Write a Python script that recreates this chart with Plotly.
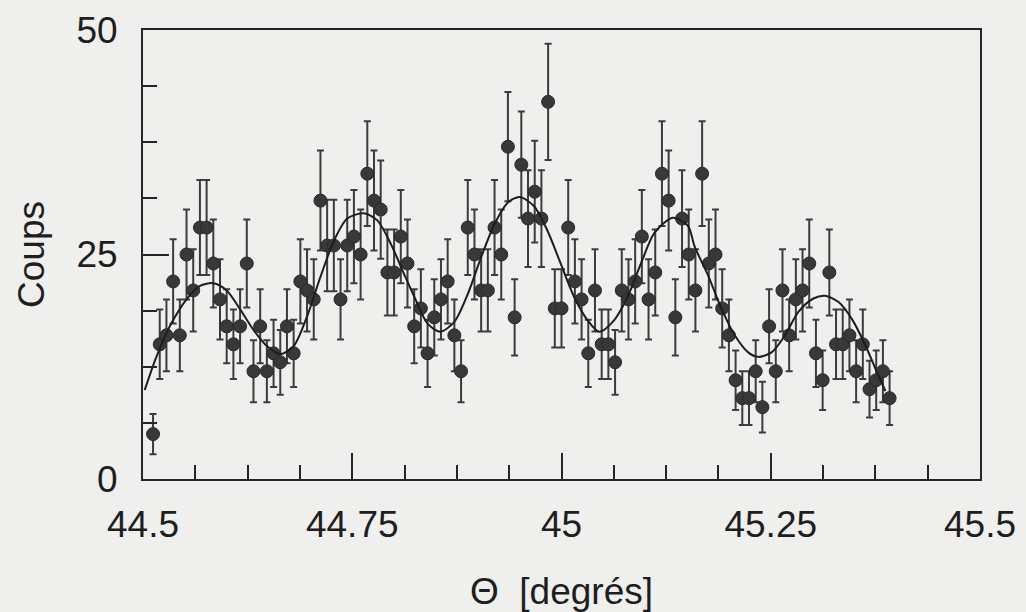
import numpy as np
import plotly.graph_objects as go

# Data
theta = [44.512, 44.520, 44.528, 44.536, 44.544, 44.552, 44.560, 44.568, 44.576, 44.584,
         44.592, 44.600, 44.608, 44.616, 44.624, 44.632, 44.640, 44.648, 44.656, 44.664,
         44.672, 44.680, 44.688, 44.696, 44.704, 44.712, 44.720, 44.728, 44.736, 44.744,
         44.752, 44.760, 44.768, 44.776, 44.784, 44.792, 44.800, 44.808, 44.816, 44.824,
         44.832, 44.840, 44.848, 44.856, 44.864, 44.872, 44.880, 44.888, 44.896, 44.904,
         44.912, 44.920, 44.928, 44.936, 44.944, 44.952, 44.960, 44.968, 44.976, 44.984,
         44.992, 45.000, 45.008, 45.016, 45.024, 45.032, 45.040, 45.048, 45.056, 45.064,
         45.072, 45.080, 45.088, 45.096, 45.104, 45.112, 45.120, 45.128, 45.136, 45.144,
         45.152, 45.160, 45.168, 45.176, 45.184, 45.192, 45.200, 45.208, 45.216, 45.224,
         45.232, 45.240, 45.248, 45.256, 45.264, 45.272, 45.280, 45.288, 45.296, 45.304,
         45.312, 45.320, 45.328, 45.336, 45.344, 45.352, 45.360, 45.368, 45.376, 45.384,
         45.392]

coups = [5, 15, 16, 22, 16, 25, 21, 28, 28, 24,
         20, 17, 15, 17, 24, 12, 17, 12, 14, 13,
         17, 14, 22, 21, 20, 31, 26, 26, 20, 26,
         27, 25, 34, 31, 30, 23, 23, 27, 24, 17,
         19, 14, 18, 20, 22, 16, 12, 28, 25, 21,
         21, 28, 25, 37, 18, 35, 29, 32, 29, 42,
         19, 19, 28, 22, 20, 14, 21, 15, 15, 13,
         21, 20, 22, 27, 20, 23, 34, 31, 18, 29,
         25, 21, 34, 24, 25, 19, 16, 11, 9, 9,
         12, 8, 17, 12, 21, 16, 20, 21, 24, 14,
         11, 23, 15, 15, 16, 12, 15, 10, 11, 12,
         9]

# Fitted curve
fit_theta = [44.502, 44.516, 44.532, 44.552, 44.568, 44.584, 44.600, 44.616, 44.632, 44.648,
             44.664, 44.680, 44.696, 44.712, 44.728, 44.744, 44.764, 44.780, 44.796, 44.812,
             44.828, 44.840, 44.855, 44.872, 44.888, 44.904, 44.920, 44.936, 44.950, 44.967,
             44.983, 44.999, 45.015, 45.031, 45.045, 45.063, 45.079, 45.095, 45.111, 45.133,
             45.151, 45.159, 45.175, 45.191, 45.207, 45.223, 45.235, 45.251, 45.267, 45.283,
             45.301, 45.315, 45.331, 45.347, 45.363, 45.375, 45.387]
fit_coups = [9.9, 13.6, 17.0, 20.0, 21.5, 21.8, 21.0, 18.9, 16.6, 14.8,
             13.9, 14.8, 18.1, 22.5, 26.5, 29.0, 29.6, 28.8, 26.2, 22.8,
             19.5, 17.3, 16.4, 17.5, 20.6, 24.7, 28.4, 30.8, 31.4, 30.4,
             27.7, 24.0, 20.3, 17.7, 16.4, 17.7, 20.3, 24.0, 27.4, 29.1,
             28.2, 25.9, 22.7, 19.0, 16.0, 14.1, 13.6, 14.1, 16.0, 18.6,
             20.1, 20.4, 19.7, 17.8, 14.9, 12.3, 9.8]

x_tickvals = [44.5, 44.75, 45, 45.25, 45.5]
x_ticktext = ["44.5", "44.75", "45", "45.25", "45.5"]
y_tickvals = [0, 25, 50]
y_ticktext = ["0", "25", "50"]

bg = "#efefed"
ink = "#262626"
font_family = "Liberation Sans, Arial, Helvetica, sans-serif"

fig = go.Figure()

fig.add_trace(go.Scatter(
    x=theta, y=coups, mode="markers",
    marker=dict(size=13, color="#383838", line=dict(color="#2a2a2a", width=1)),
    error_y=dict(type="data", array=np.sqrt(coups), visible=True,
                 color="#3c3c3c", thickness=2, width=3.5),
    showlegend=False,
))

fig.add_trace(go.Scatter(
    x=fit_theta, y=fit_coups, mode="lines",
    line=dict(color="#1e1e1e", width=2, shape="spline", smoothing=0.8),
    showlegend=False,
))

axis_common = dict(
    showgrid=False, zeroline=False, automargin=False,
    showline=True, mirror=True, linecolor=ink, linewidth=2,
    ticks="inside", tickwidth=2, tickcolor=ink, ticklen=26,
    tickfont=dict(family=font_family, size=37, color="#1e1e1e"),
)

fig.update_xaxes(
    **axis_common,
    range=[44.5, 45.5],
    tickmode="array", tickvals=x_tickvals, ticktext=x_ticktext,
    minor=dict(ticks="inside", ticklen=14, tickwidth=2, tickcolor=ink,
               tick0=44.5, dtick=0.0625, showgrid=False),
    ticklabelstandoff=12,
    title=dict(text="\u0398\u00a0 [degrés]",
               font=dict(family=font_family, size=37, color="#1e1e1e"),
               standoff=34),
)

fig.update_yaxes(
    **axis_common,
    range=[0, 50],
    tickmode="array", tickvals=y_tickvals, ticktext=y_ticktext,
    minor=dict(ticks="inside", ticklen=14, tickwidth=2, tickcolor=ink,
               tick0=0, dtick=6.25, showgrid=False),
    ticklabelstandoff=16,
    title=dict(text="Coups",
               font=dict(family=font_family, size=37, color="#1e1e1e"),
               standoff=20),
)

fig.update_layout(
    width=1026, height=612,
    margin=dict(l=143, r=46, t=30, b=133),
    paper_bgcolor=bg, plot_bgcolor=bg,
    font=dict(family=font_family, color="#1e1e1e"),
)

# remove the default 8px page margin so the figure fills the window exactly
fig.write_html(
    "out.html",
    config={"displayModeBar": False},
    post_script="document.body.style.margin='0px';document.body.style.background='#efefed';",
)
